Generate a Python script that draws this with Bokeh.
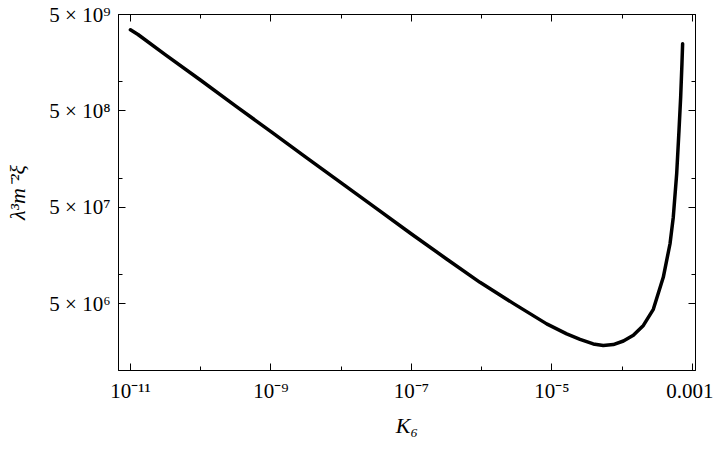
from bokeh.plotting import figure
from bokeh.models import FixedTicker, LogAxis, Range1d, CustomJSTickFormatter
from bokeh.embed import file_html
from bokeh.resources import INLINE

# Data (K6 vs lambda^3 m^-2 xi)
k6 = [1.00e-11, 1.28e-11, 3.16e-11, 1.00e-10, 3.16e-10, 1.00e-9, 3.16e-9, 1.00e-8,
      3.16e-8, 1.00e-7, 3.16e-7, 9.44e-7, 2.81e-6, 8.41e-6, 1.62e-5, 2.51e-5,
      3.87e-5, 5.37e-5, 7.46e-5, 1.04e-4, 1.44e-4, 2.00e-4, 2.77e-4, 3.84e-4,
      4.79e-4, 5.33e-4, 5.96e-4, 6.43e-4, 6.79e-4, 7.08e-4, 7.24e-4]
xi = [3.47e9, 3.10e9, 1.91e9, 1.04e9, 5.62e8, 3.05e8, 1.65e8, 8.97e7,
      4.88e7, 2.65e7, 1.46e7, 8.36e6, 5.06e6, 3.10e6, 2.44e6, 2.14e6,
      1.92e6, 1.85e6, 1.89e6, 2.06e6, 2.36e6, 2.99e6, 4.39e6, 9.42e6,
      2.10e7, 3.96e7, 1.12e8, 3.14e8, 6.95e8, 1.54e9, 2.49e9]

x_major = [1e-11, 1e-9, 1e-7, 1e-5, 1e-3]
x_minor = [1e-10, 1e-8, 1e-6, 1e-4]
x_labels = ["10⁻¹¹", "10⁻⁹", "10⁻⁷", "10⁻⁵", "0.001"]
y_major = [5e6, 5e7, 5e8, 5e9]
y_minor = [1e6, 1e7, 1e8, 1e9]
y_labels = ["5 × 10⁶", "5 × 10⁷", "5 × 10⁸", "5 × 10⁹"]
x_title = "K₆"
y_title = "λ³m⁻²ξ"

FONT = "Liberation Serif"

X0, X1 = 10 ** -11.17, 10 ** -2.957
Y0, Y1 = 10 ** 6.008, 5e9

p = figure(width=713, height=448, x_axis_type="log", y_axis_type="log",
           x_range=Range1d(X0, X1), y_range=Range1d(Y0, Y1),
           output_backend="svg", toolbar_location=None,
           min_border_left=118, min_border_right=18,
           min_border_top=14, min_border_bottom=78)
p.grid.visible = False
p.background_fill_color = "white"
p.border_fill_color = "white"
p.outline_line_color = "black"
p.outline_line_width = 1

p.line(k6, xi, line_color="black", line_width=3.5, line_join="round", line_cap="round")


def style(ax):
    ax.axis_line_color = "black"
    ax.axis_line_width = 1
    ax.major_tick_in = 7
    ax.major_tick_out = 0
    ax.minor_tick_in = 4
    ax.minor_tick_out = 0
    ax.major_tick_line_color = "black"
    ax.minor_tick_line_color = "black"
    ax.major_label_text_font = FONT
    ax.major_label_text_font_size = "21px"
    ax.major_label_text_color = "black"
    ax.axis_label_text_font = FONT
    ax.axis_label_text_font_size = "22px"
    ax.axis_label_text_font_style = "italic"
    ax.axis_label_text_color = "black"


xa = p.xaxis[0]
xa.ticker = FixedTicker(ticks=x_major, minor_ticks=x_minor)
xa.major_label_overrides = {v: s for v, s in zip(x_major, x_labels)}
xa.axis_label = x_title
style(xa)
xa.major_label_standoff = 8
xa.axis_label_standoff = 7

ya = p.yaxis[0]
ya.ticker = FixedTicker(ticks=y_major, minor_ticks=y_minor)
ya.major_label_overrides = {v: s for v, s in zip(y_major, y_labels)}
ya.axis_label = y_title
style(ya)
ya.major_label_standoff = 8
ya.axis_label_standoff = 16

blank = CustomJSTickFormatter(code="return ''")
top = LogAxis(ticker=FixedTicker(ticks=x_major, minor_ticks=x_minor), formatter=blank)
right = LogAxis(ticker=FixedTicker(ticks=y_major, minor_ticks=y_minor), formatter=blank)
for ax in (top, right):
    style(ax)
    ax.major_label_text_font_size = "0px"
    ax.major_label_standoff = 0
p.add_layout(top, "above")
p.add_layout(right, "right")

open("out.html", "w").write(file_html(p, INLINE))
